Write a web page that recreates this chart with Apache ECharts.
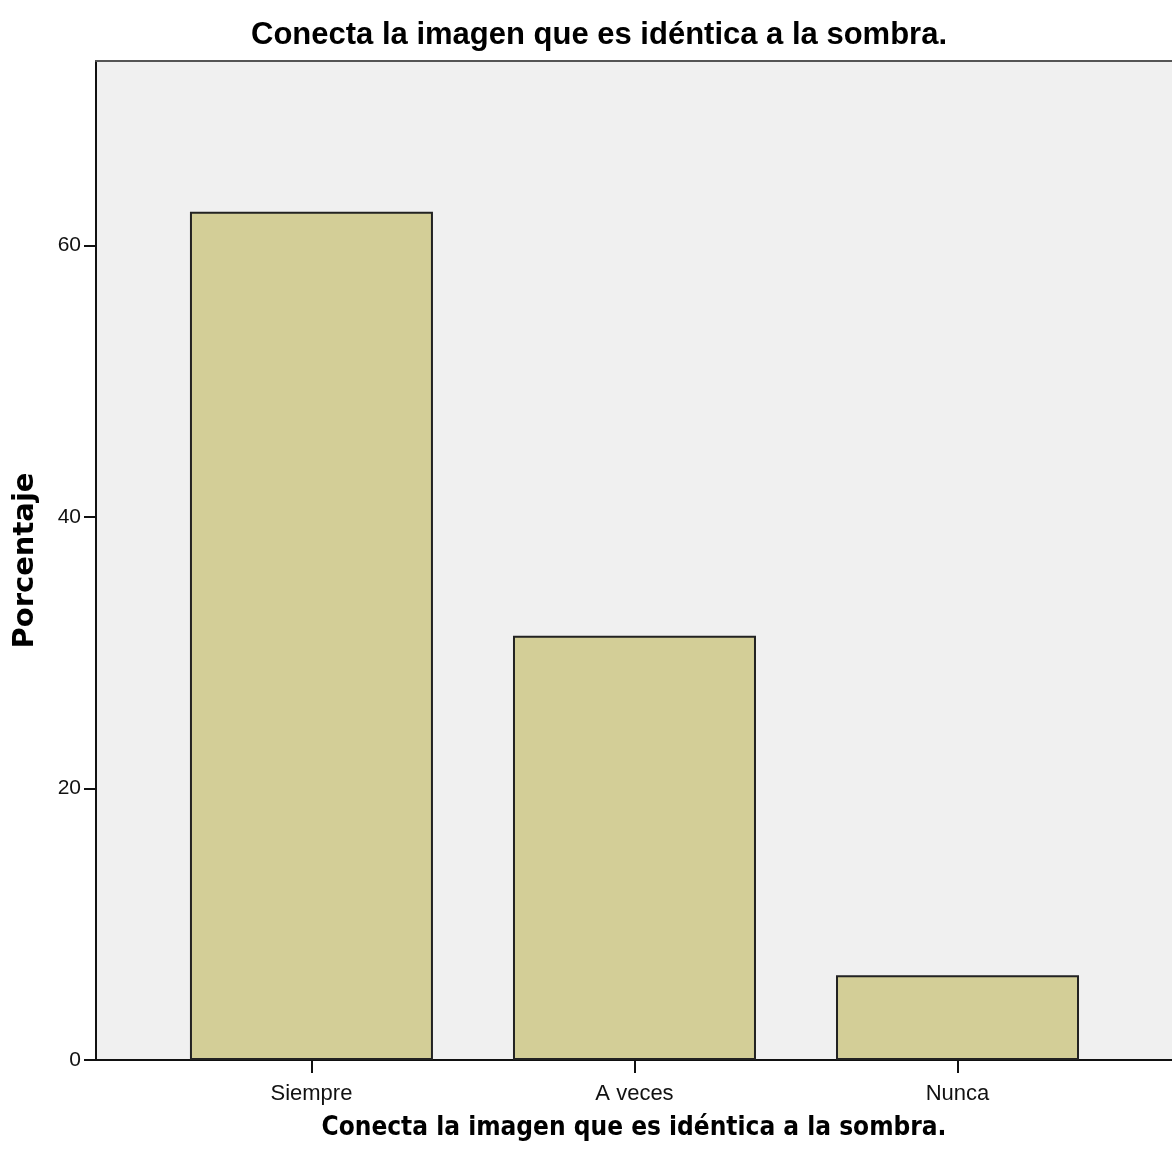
<!DOCTYPE html>
<html>
<head>
<meta charset="utf-8">
<script src="https://cdn.jsdelivr.net/npm/echarts@6/dist/echarts.min.js"></script>
<style>
html,body{margin:0;padding:0;background:#fff;}
#main{width:1172px;height:1171px;}
</style>
</head>
<body>
<div id="main"></div>
<script>
const titleText = 'Conecta la imagen que es idéntica a la sombra.';
const categories = ['Siempre', 'A veces', 'Nunca'];
const percentages = [62.5, 31.25, 6.25];
const yTicks = [0, 20, 40, 60];

const chart = echarts.init(document.getElementById('main'), null, {renderer: 'canvas'});
const option = {
  animation: false,
  backgroundColor: '#ffffff',
  title: {
    text: titleText,
    left: 594,
    top: 15,
    textAlign: 'center',
    textStyle: {
      fontFamily: '"Liberation Sans Narrow", "Liberation Sans", Arial, sans-serif',
      fontWeight: 'bold',
      fontSize: 31,
      color: '#000'
    }
  },
  grid: {
    left: 96,
    top: 61,
    right: 0,
    bottom: 111,
    show: true,
    backgroundColor: '#f0f0f0',
    borderWidth: 0
  },
  xAxis: [{
    type: 'value',
    min: -0.667,
    max: 2.664,
    splitLine: {show: false},
    axisLine: {show: true, onZero: false, lineStyle: {color: '#111', width: 2}},
    axisTick: {show: true, customValues: [0, 1, 2], length: 13, inside: false, lineStyle: {color: '#111', width: 2}},
    axisLabel: {
      customValues: [0, 1, 2],
      formatter: function (v) { return categories[Math.round(v)] || ''; },
      fontFamily: '"Liberation Sans Narrow", "Liberation Sans", Arial, sans-serif',
      fontSize: 22,
      color: '#111',
      margin: 23
    },
    name: titleText,
    nameLocation: 'middle',
    nameGap: 55,
    nameTextStyle: {
      fontFamily: '"DejaVu Sans Condensed", "DejaVu Sans", sans-serif',
      fontWeight: 'bold',
      fontSize: 26,
      color: '#000',
      verticalAlign: 'top'
    }
  }, {
    type: 'value',
    position: 'top',
    min: -0.667,
    max: 2.664,
    splitLine: {show: false},
    axisLine: {show: true, onZero: false, lineStyle: {color: '#555', width: 2}},
    axisTick: {show: false},
    axisLabel: {show: false}
  }],
  yAxis: {
    type: 'value',
    min: 0,
    max: 73.6,
    splitLine: {show: false},
    axisLine: {show: true, onZero: false, lineStyle: {color: '#111', width: 2}},
    axisTick: {show: true, customValues: yTicks, length: 12, lineStyle: {color: '#111', width: 2}},
    axisLabel: {
      customValues: yTicks,
      fontFamily: '"Liberation Sans Narrow", "Liberation Sans", Arial, sans-serif',
      fontSize: 21,
      color: '#111',
      margin: 15
    },
    name: 'Porcentaje',
    nameLocation: 'middle',
    nameGap: 56,
    nameTextStyle: {
      fontFamily: '"DejaVu Sans", sans-serif',
      fontWeight: 'bold',
      fontSize: 29,
      color: '#000'
    }
  },
  series: [{
    type: 'bar',
    xAxisIndex: 0,
    data: percentages.map(function (v, i) { return [i, v]; }),
    barWidth: 243,
    itemStyle: {
      color: '#d3ce97',
      borderColor: '#222',
      borderWidth: 2
    }
  }]
};
chart.setOption(option);
</script>
</body>
</html>
